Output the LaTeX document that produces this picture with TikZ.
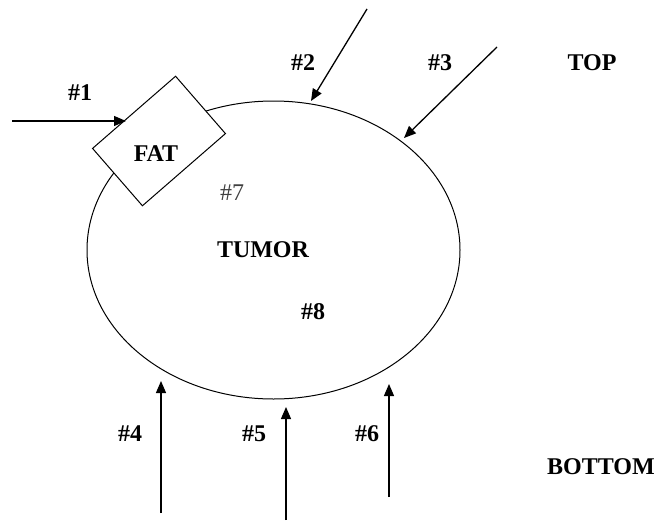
\documentclass[tikz,border=0pt]{standalone}
\usepackage{fontspec}
\setmainfont{Liberation Serif}
\usetikzlibrary{arrows.meta, shapes.geometric}

\begin{document}
\begin{tikzpicture}[x=1pt, y=-1pt,
  every node/.style={font=\fontsize{24}{26}\selectfont\bfseries, inner sep=0pt},
  ray/.style={-{Triangle[length=12pt, width=10pt]}, line width=1.3pt},
  thinlbl/.style={font=\fontsize{24}{26}\selectfont, text=black!75}]
\useasboundingbox (0,0) rectangle (661,525);
\node[draw, ellipse, line width=1pt, minimum width=373pt, minimum height=298pt] (tumor) at (273.5,250) {};
\node[draw, fill=white, line width=1pt, rotate=41, minimum width=110pt, minimum height=76pt] (fat) at (159,141) {};
\node (fatlbl) at (156,154) {FAT};
\node (tumorlbl) at (263,250) {TUMOR};
\node[thinlbl] (n7) at (232,193) {\#7};
\node (n8) at (313,312) {\#8};
\node (top) at (592,63) {TOP};
\node (bottom) at (601,467) {BOTTOM};
\coordinate (s1) at (12,121);
\coordinate (e1) at (126,121);
\coordinate (s2) at (367,9);
\coordinate (e2) at (311,101);
\coordinate (s3) at (497,47);
\coordinate (e3) at (404,138);
\coordinate (s4) at (161,513);
\coordinate (e4) at (161,381);
\coordinate (s5) at (286,520);
\coordinate (e5) at (286,407);
\coordinate (s6) at (389,497);
\coordinate (e6) at (389,384);
\draw[ray] (s1) -- (e1);
\draw[ray] (s2) -- (e2);
\draw[ray] (s3) -- (e3);
\draw[ray] (s4) -- (e4);
\draw[ray] (s5) -- (e5);
\draw[ray] (s6) -- (e6);
\node (n1) at (80,93) {\#1};
\node (n2) at (303,63) {\#2};
\node (n3) at (440,63) {\#3};
\node (n4) at (130,434) {\#4};
\node (n5) at (254,434) {\#5};
\node (n6) at (367,434) {\#6};
\end{tikzpicture}
\end{document}
